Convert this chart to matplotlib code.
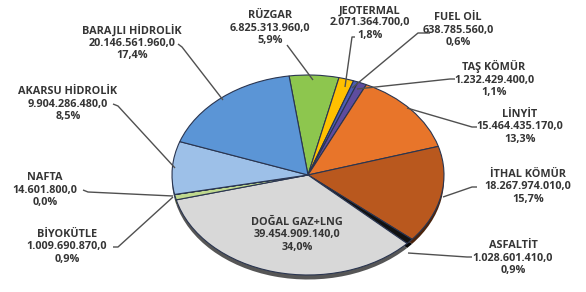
import numpy as np
import matplotlib.pyplot as plt
from matplotlib.colors import to_rgb

# data (clockwise from the top)
names = ["RÜZGAR", "JEOTERMAL", "FUEL OİL", "TAŞ KÖMÜR", "LİNYİT", "İTHAL KÖMÜR",
         "ASFALTİT", "DOĞAL GAZ+LNG", "BİYOKÜTLE", "NAFTA", "AKARSU HİDROLİK",
         "BARAJLI HİDROLİK"]
values = [6825313960.0, 2071364700.0, 638785560.0, 1232429400.0, 15464435170.0,
          18267974010.0, 1028601410.0, 39454909140.0, 1009690870.0, 14601800.0,
          9904286480.0, 20146561960.0]
value_txt = ["6.825.313.960,0", "2.071.364.700,0", "638.785.560,0", "1.232.429.400,0",
             "15.464.435.170,0", "18.267.974.010,0", "1.028.601.410,0",
             "39.454.909.140,0", "1.009.690.870,0", "14.601.800,0",
             "9.904.286.480,0", "20.146.561.960,0"]
pct_txt = ["5,9%", "1,8%", "0,6%", "1,1%", "13,3%", "15,7%", "0,9%", "34,0%",
           "0,9%", "0,0%", "8,5%", "17,4%"]
colors = ["#8DC64E", "#FFC000", "#4A5DB5", "#5E4C9F", "#E8752A", "#B9581E",
          "#111111", "#D8D8D8", "#BFD88E", "#C3D69B", "#9DC0E8", "#5B95D6"]

# pixel -> data helpers (pie centre at px (308,175), radii 136 x 100 px)
CX, CY, RX, RY = 308, 175, 136, 100
def dx(px): return (px - CX) / RX
def dy(py): return (CY - py) / RY

fig = plt.figure(figsize=(5.86, 2.92), dpi=100)
ax = fig.add_axes([0, 0, 1, 1])

# shadow / depth
dark = [tuple(c * 0.4 for c in to_rgb(col)) for col in colors]
ax.pie(values, colors=dark, startangle=98, counterclock=False, radius=1.0,
       center=(0, -0.045), wedgeprops=dict(linewidth=0))
ax.pie(values, colors=colors, startangle=98, counterclock=False, radius=1.0,
       center=(0, 0), wedgeprops=dict(linewidth=0.8, edgecolor="#2a3550"))

ax.set_aspect("auto")
ax.set_xlim(dx(0), dx(586))
ax.set_ylim(dy(292), dy(0))
ax.axis("off")

# label centres (pixel) and leader lines (text end -> pie)
lab = {
    "RÜZGAR": (270, 28, [(287, 45), (313, 80)]),
    "JEOTERMAL": (370, 23, [(355, 37), (352, 37), (345, 87)]),
    "FUEL OİL": (458, 30, [(430, 33), (418, 33), (352, 88)]),
    "TAŞ KÖMÜR": (494, 79, [(455, 79), (450, 79), (357, 89)]),
    "LİNYİT": (520, 127, [(477, 127), (472, 127), (407, 108)]),
    "İTHAL KÖMÜR": (528, 187, [(477, 187), (472, 187), (443, 197)]),
    "ASFALTİT": (513, 258, [(472, 257), (467, 257), (408, 253)]),
    "BİYOKÜTLE": (67, 247, [(113, 247), (118, 247), (173, 197)]),
    "NAFTA": (45, 190, [(83, 190), (88, 192), (173, 196)]),
    "AKARSU HİDROLİK": (68, 104, [(113, 104), (118, 106), (175, 168)]),
    "BARAJLI HİDROLİK": (132, 43, [(178, 44), (182, 47), (223, 100)]),
}

style = dict(ha="center", va="center", fontsize=7.8, fontweight="bold",
             color="#353535", family="Open Sans", linespacing=1.15)

for i, n in enumerate(names):
    txt = n + "\n" + value_txt[i] + "\n" + pct_txt[i]
    if n == "DOĞAL GAZ+LNG":
        ax.text(dx(297), dy(235), txt, **style)
        continue
    x, y, pts = lab[n]
    ax.text(dx(x), dy(y), txt, **style)
    ax.plot([dx(p[0]) for p in pts], [dy(p[1]) for p in pts], color="#505050",
            lw=1.0, solid_capstyle="butt")

fig.savefig("out.png", dpi=100)
